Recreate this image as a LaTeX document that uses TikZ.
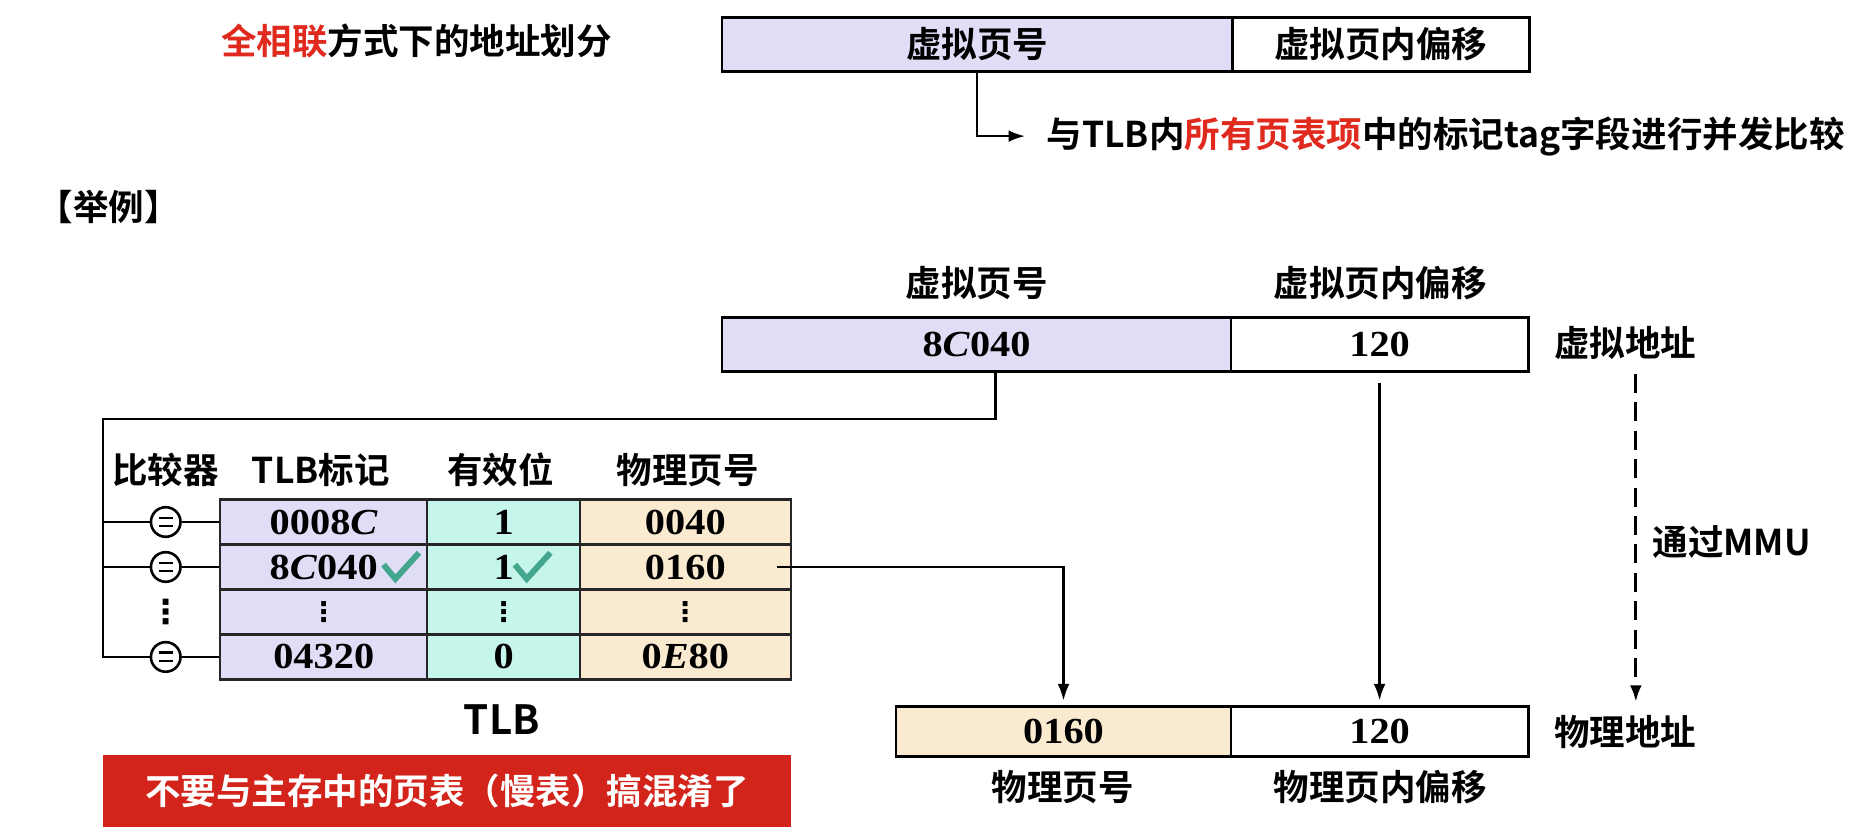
\documentclass[tikz,border=0pt]{standalone}
\usepackage{fontspec}
\setmainfont{Noto Sans CJK SC}[BoldFont={Noto Sans CJK SC Bold}]
\newfontfamily\numfont{Liberation Serif}[FakeStretch=1.1]
\newfontfamily\dvfont{DejaVu Sans}
\usetikzlibrary{arrows.meta,calc}
\definecolor{lav}{RGB}{224,222,247}
\definecolor{mint}{RGB}{198,246,235}
\definecolor{beige}{RGB}{250,235,208}
\definecolor{tred}{RGB}{224,42,30}
\definecolor{redc}{RGB}{210,36,26}
\definecolor{chkc}{RGB}{68,166,140}
\newcommand\cjkb{\fontsize{30}{36}\selectfont\bfseries}
\newcommand\numb{\fontsize{31}{34}\selectfont\numfont\bfseries}
\tikzset{
  abox/.style={draw=black, line width=2.4pt, minimum height=46pt, inner sep=0pt},
  cell/.style={draw=black!85, line width=2pt, minimum height=38pt, inner sep=0pt, font=\numb},
  lbl/.style={font=\cjkb, inner sep=0pt},
  conn/.style={line width=2pt},
  arr/.style={conn, -{Latex[length=14pt,width=10pt]}},
  cmp/.style={circle, draw, line width=2.2pt, minimum size=25pt, inner sep=0pt, fill=white},
  chk/.style={draw=chkc, line width=5pt},
  vdot/.style={inner sep=0pt, font=\fontsize{28}{30}\selectfont\dvfont\bfseries},
  cdot/.style={inner sep=0pt, font=\fontsize{23}{25}\selectfont\dvfont\bfseries}
}
\begin{document}
\begin{tikzpicture}[x=1pt,y=-1pt]
\useasboundingbox (0,0) rectangle (1568,708);
% title
\node[lbl] (title) at (352,35) {{\color{tred}全相联}方式下的地址划分};
\node[abox, fill=lav, minimum width=431pt, font=\cjkb] (vpn1) at (825.5,37.5) {虚拟页号};
\node[abox, fill=white, minimum width=251pt, font=\cjkb] (off1) at (1166.5,37.5) {虚拟页内偏移};
\node[lbl, anchor=west] (note) at (884,115) {与TLB内{\color{tred}所有页表项}中的标记tag字段进行并发比较};
\draw[arr, shorten >=18pt] (vpn1.south) |- (note.west);
% example
\node[lbl] (ex) at (92,175) {【举例】};
\node[lbl] (h1) at (825,239) {虚拟页号};
\node[lbl] (h2) at (1166,239) {虚拟页内偏移};
\node[abox, fill=lav, minimum width=430pt, font=\numb] (vpn2) at (825,291) {8\textit{C}040};
\node[abox, fill=white, minimum width=251pt, font=\numb] (off2) at (1165.5,291) {120};
\node[lbl] (va) at (1373,290) {虚拟地址};
% physical address
\node[abox, fill=beige, minimum width=283pt, minimum height=42pt, font=\numb] (ppn3) at (898.5,618) {0160};
\node[abox, fill=white, minimum width=251pt, minimum height=42pt, font=\numb] (off3) at (1165.5,618) {120};
\node[lbl] (pa) at (1373,618) {物理地址};
\node[lbl] (h3) at (898,665) {物理页号};
\node[lbl] (h4) at (1166,665) {物理页内偏移};
\node[lbl, anchor=west] (mmu) at (1396,458) {通过MMU};
% TLB headers
\node[lbl] (hc) at (140,397) {比较器};
\node[lbl] (ht) at (271,397) {TLB标记};
\node[lbl] (hv) at (423,397) {有效位};
\node[lbl] (hp) at (581,397) {物理页号};
% TLB cells
\node[cell, fill=lav, minimum width=175pt] (c11) at (273.5,441) {0008\textit{C}};
\node[cell, fill=mint, minimum width=129pt] (c12) at (425.5,441) {1};
\node[cell, fill=beige, minimum width=178pt] (c13) at (579,441) {0040};
\node[cell, fill=lav, minimum width=175pt] (c21) at (273.5,479) {8\textit{C}040};
\node[cell, fill=mint, minimum width=129pt] (c22) at (425.5,479) {1};
\node[cell, fill=beige, minimum width=178pt] (c23) at (579,479) {0160};
\node[cell, fill=lav, minimum width=175pt] (c31) at (273.5,517) {};
\node[cell, fill=mint, minimum width=129pt] (c32) at (425.5,517) {};
\node[cell, fill=beige, minimum width=178pt] (c33) at (579,517) {};
\node[cell, fill=lav, minimum width=175pt] (c41) at (273.5,555) {04320};
\node[cell, fill=mint, minimum width=129pt] (c42) at (425.5,555) {0};
\node[cell, fill=beige, minimum width=178pt] (c43) at (579,555) {0\textit{E}80};
\node[cdot] (d31) at (c31) {⋮};
\node[cdot] (d32) at (c32) {⋮};
\node[cdot] (d33) at (c33) {⋮};
\node[lbl, font=\fontsize{34}{40}\selectfont\bfseries] (tlb) at (424,608) {TLB};
% checks
\draw[chk] (324,477) -- (334,489) -- (354,467);
\draw[chk] (435,477) -- (445,489) -- (465,467);
% comparators
\node[cmp] (cmp1) at (140,441) {};
\node[cmp] (cmp2) at (140,479) {};
\node[cmp] (cmp4) at (140,555) {};
\node[vdot] (cdots) at (140,517) {⋮};
\foreach \c in {cmp1,cmp2,cmp4}{
  \draw[line width=2.2pt] ($(\c)+(-6,-3.5)$) -- ($(\c)+(6,-3.5)$);
  \draw[line width=2.2pt] ($(\c)+(-6,3.5)$) -- ($(\c)+(6,3.5)$);
}
\coordinate (busTop) at (87,354);
\draw[conn] ($(vpn2.south)+(16,0)$) |- (busTop) |- (cmp4.west);
\draw[conn] (busTop |- cmp1) -- (cmp1.west);
\draw[conn] (busTop |- cmp2) -- (cmp2.west);
\draw[conn] (cmp1.east) -- (c11.west);
\draw[conn] (cmp2.east) -- (c21.west);
\draw[conn] (cmp4.east) -- (c41.west);
% connectors
\draw[arr, shorten >=4pt] ($(c23.east)+(-13,0)$) -| (ppn3.north);
\draw[arr, shorten >=4pt] ($(off2.south)+(0,8)$) -- (off3.north);
\coordinate (d1) at (1382,316);
\coordinate (d2) at (1382,597);
\draw[arr, line width=2.6pt, dash pattern=on 16pt off 8pt, shorten >=4pt] (d1) -- (d2);
% warning
\node[fill=redc, minimum width=581pt, minimum height=61pt, inner sep=0pt, text=white, font=\cjkb] (warn) at (377.5,668.5) {不要与主存中的页表（慢表）搞混淆了};
\end{tikzpicture}
\end{document}
